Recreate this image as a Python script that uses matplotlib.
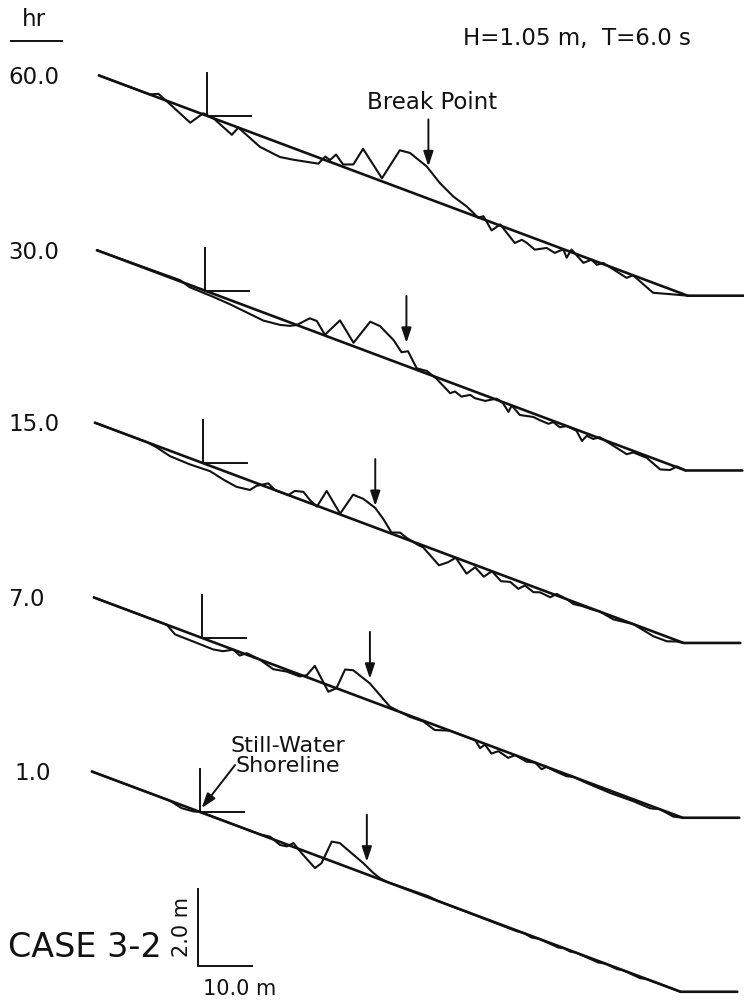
import numpy as np
import matplotlib.pyplot as plt
from matplotlib import transforms
from matplotlib.lines import Line2D

plt.rcParams['font.family'] = ['DejaVu Sans']

# initial plane slope: distance from still-water shoreline (m), elevation (m)
x_init = [-20.0, 89.0, 99.5]
z_init = [1.05, -4.67, -4.67]

hours = ['60.0', '30.0', '15.0', '7.0', '1.0']

# measured profiles, given as departure from the initial slope (m)
x_60 = [-20.0, -10.6, -9.0, -7.6, -3.1, -0.7, 1.2, 4.6, 5.8, 9.8, 13.5, 16.0, 20.6, 21.9, 22.8,
        23.9, 25.2, 27.1, 28.9, 32.4, 35.7, 37.6, 40.7, 43.1, 45.6, 48.1, 49.3, 50.2, 51.2, 52.7,
        54.3, 57.0, 58.3, 59.2, 60.7, 62.9, 64.4, 66.0, 66.6, 67.5, 69.7, 71.2, 72.2, 73.4, 77.7,
        78.9, 82.6, 87.0, 89.0]
dz_60 = [0.0, 0.0, 0.10, 0.0, -0.34, 0.03, 0.0, -0.25, 0.0, -0.29, -0.36, -0.30, -0.16, 0.09, 0.05,
         0.25, 0.06, 0.16, 0.66, 0.08, 0.98, 1.01, 0.82, 0.52, 0.30, 0.17, 0.07, -0.01, 0.08, -0.21,
         0.03, -0.31, -0.16, -0.19, -0.29, -0.13, -0.18, 0.0, -0.19, 0.07, -0.16, 0.0, -0.08, 0.03, -0.13,
         0.0, -0.26, -0.08, 0.0]

x_30 = [-20.0, -4.6, -2.8, 1.5, 4.6, 10.8, 13.9, 15.7, 17.0, 19.4, 20.7, 22.2, 25.0, 27.5, 30.6,
        32.4, 34.9, 36.4, 37.6, 39.2, 41.1, 42.9, 45.4, 46.3, 47.5, 49.1, 50.0, 51.9, 54.0, 55.2,
        56.2, 56.8, 58.3, 60.8, 62.0, 63.6, 64.5, 65.7, 67.0, 68.8, 69.8, 70.7, 71.9, 73.1, 75.6,
        78.1, 79.3, 81.8, 84.3, 86.1, 87.4, 89.0]
dz_30 = [0.0, 0.03, -0.06, -0.08, -0.11, -0.21, -0.16, -0.09, 0.0, 0.30, 0.30, 0.02, 0.54, 0.09, 0.80,
         0.78, 0.55, 0.31, 0.40, 0.04, 0.07, -0.04, -0.28, -0.19, -0.26, -0.13, -0.17, -0.14, 0.03, -0.03,
         -0.20, 0.0, -0.17, -0.09, -0.11, -0.12, -0.03, -0.10, 0.0, -0.03, -0.24, -0.06, -0.08, 0.03, -0.06,
         -0.15, -0.04, -0.05, -0.22, -0.14, 0.02, 0.0]

x_15 = [-20.0, -10.4, -8.6, -6.1, -2.4, 1.3, 3.8, 6.2, 8.7, 9.9, 12.1, 13.3, 15.8, 17.0, 18.6,
        19.8, 21.1, 22.9, 25.4, 27.8, 29.7, 31.9, 33.4, 34.9, 36.5, 37.7, 39.6, 40.8, 43.7, 45.4,
        46.8, 48.8, 50.4, 52.0, 53.5, 55.2, 56.9, 58.4, 59.6, 61.2, 62.4, 64.3, 65.5, 67.4, 68.6,
        70.1, 72.0, 73.5, 76.0, 79.7, 83.4, 85.9, 87.7, 89.0]
dz_15 = [0.0, 0.0, -0.04, -0.14, -0.16, -0.14, -0.23, -0.29, -0.24, -0.07, 0.11, 0.0, 0.0, 0.17, 0.23,
         0.08, -0.02, 0.48, 0.02, 0.64, 0.63, 0.51, 0.30, 0.03, 0.11, 0.04, -0.03, -0.05, -0.36, -0.19,
         0.0, -0.31, -0.06, -0.22, 0.0, -0.17, -0.10, -0.20, -0.05, -0.14, -0.08, -0.11, 0.04, 0.0, -0.06,
         -0.03, -0.02, 0.0, -0.07, 0.0, -0.12, -0.12, -0.03, 0.0]

x_7 = [-20.0, -6.5, -5.0, -1.0, 2.1, 3.9, 5.8, 7.0, 8.3, 10.7, 13.2, 15.7, 18.1, 19.4, 20.9,
       23.4, 24.9, 26.5, 28.0, 31.1, 33.0, 34.8, 38.5, 41.0, 43.1, 45.9, 50.6, 51.5, 52.4, 53.6,
       54.9, 56.7, 58.0, 60.1, 61.7, 62.9, 63.8, 65.4, 67.5, 68.8, 71.2, 75.6, 79.9, 83.0, 84.8,
       87.3, 89.0]
dz_7 = [0.0, 0.0, -0.17, -0.18, -0.19, -0.14, 0.0, -0.09, 0.04, 0.0, -0.12, -0.05, -0.05, 0.05, 0.37,
        -0.17, 0.0, 0.57, 0.63, 0.45, 0.24, 0.04, -0.03, -0.02, -0.13, 0.0, 0.0, -0.16, -0.02, -0.19,
        -0.06, -0.14, 0.0, -0.06, 0.0, -0.11, 0.0, -0.03, -0.05, 0.0, -0.03, -0.06, -0.05, -0.07, 0.0,
        -0.06, 0.0]

x_1 = [-20.0, -5.6, -3.4, -1.2, 0.0, 11.1, 13.0, 14.8, 16.1, 17.3, 18.8, 21.3, 22.5, 24.4, 25.9,
       28.4, 30.2, 32.1, 33.3, 34.6, 42.3, 44.0, 58.6, 60.0, 61.4, 62.8, 66.4, 67.4, 68.5, 69.6,
       73.8, 75.0, 77.2, 78.4, 81.5, 82.7, 89.0]
dz_1 = [0.0, 0.0, -0.08, -0.05, 0.0, 0.0, 0.04, -0.08, -0.05, 0.10, -0.08, -0.34, -0.15, 0.51, 0.55,
        0.38, 0.26, 0.10, 0.03, 0.0, 0.03, 0.0, -0.02, 0.0, -0.04, 0.0, -0.04, 0.0, -0.03, 0.0,
        -0.04, 0.0, -0.03, 0.0, -0.04, 0.0, 0.0]

# break point location (m) and height of the arrow tip above the initial slope (m)
break_x = [41.0, 37.3, 31.9, 31.1, 30.9]
break_tip = [0.84, 0.60, 0.56, 0.57, 0.33]

profiles = [(x_60, dz_60), (x_30, dz_30), (x_15, dz_15), (x_7, dz_7), (x_1, dz_1)]

# layout: figure is drawn at 5.4 px per m across and 38.5 px per m up
W, H = 744, 1008
PX_X, PX_Z = 5.4, 38.5
y_off = [-3.01, -7.55, -12.03, -16.57, -21.09]   # vertical stacking of the runs
x_off = [0.0, -0.37, -0.74, -0.93, -1.30]
lab_x = [8, 8, 8, 8, 14]
K = '#111111'

fig = plt.figure(figsize=(W / 100, H / 100), dpi=100)
ax = fig.add_axes([0, 0, 1, 1])
ax.set_xlim(-207 / PX_X, (W - 207) / PX_X)
ax.set_ylim(-H / PX_Z, 0)
ax.axis('off')

lab_tr = transforms.blended_transform_factory(ax.transAxes, ax.transData)
arrow_kw = dict(arrowstyle='-|>,head_length=0.6,head_width=0.2', color=K, lw=1.4,
                mutation_scale=15, shrinkA=0, shrinkB=0)

for i, (xm, dz) in enumerate(profiles):
    xo, yo = x_off[i], y_off[i]
    xm = np.asarray(xm)
    z_meas = np.interp(xm, x_init, z_init) + np.asarray(dz)
    ax.plot(np.asarray(x_init) + xo, np.asarray(z_init) + yo, color=K, lw=1.9,
            solid_capstyle='round')
    ax.plot(xm + xo, z_meas + yo, color=K, lw=1.5, solid_joinstyle='round')

    # still-water shoreline marker
    ax.plot([xo, xo], [yo, yo + 1.12], color=K, lw=1.4)
    ax.plot([xo, xo + 8.1], [yo, yo], color=K, lw=1.4)

    # break point arrow
    zb = np.interp(break_x[i], x_init, z_init) + yo + break_tip[i]
    ax.annotate('', xy=(break_x[i] + xo, zb), xytext=(break_x[i] + xo, zb + 1.22),
                arrowprops=arrow_kw)

    ax.text(lab_x[i] / W, yo + 1.0, hours[i], transform=lab_tr, ha='left', va='center',
            fontsize=16.5, color=K)

# titles and notes
fig.text(34 / W, 1 - 19 / H, 'hr', ha='center', va='center', fontsize=16.5, color=K)
fig.add_artist(Line2D([11 / W, 62 / W], [1 - 41 / H, 1 - 41 / H], transform=fig.transFigure,
                      color=K, lw=1.4))
fig.text(577 / W, 1 - 38 / H, 'H=1.05 m,  T=6.0 s', ha='center', va='center',
         fontsize=16.5, color=K)

zb0 = np.interp(break_x[0], x_init, z_init) + y_off[0] + break_tip[0] + 1.22
ax.text(break_x[0] + 0.6, zb0 + 0.45, 'Break Point', ha='center', va='center',
        fontsize=16.5, color=K)

ax.text(16.3 + x_off[4], y_off[4] + 1.45, 'Still-Water\nShoreline', ha='center',
        va='center', linespacing=1.0, fontsize=16, color=K)
ax.annotate('', xy=(0.3 + x_off[4], y_off[4] + 0.1), xytext=(6.5 + x_off[4], y_off[4] + 1.22),
            arrowprops=arrow_kw)

# scale bar
sx, sy = -1.67, -25.09
ax.plot([sx, sx, sx + 10.0], [sy + 2.0, sy, sy], color=K, lw=1.4)
ax.text(sx - 2.96, sy + 1.0, '2.0 m', rotation=90, ha='center', va='center',
        fontsize=15, color=K)
ax.text(sx + 7.8, sy - 0.6, '10.0 m', ha='center', va='center', fontsize=15, color=K)
ax.text(8 / W, -24.62, 'CASE 3-2', transform=lab_tr, ha='left', va='center',
        fontsize=24, color=K)

fig.savefig('out.png', dpi=100, facecolor='white')
